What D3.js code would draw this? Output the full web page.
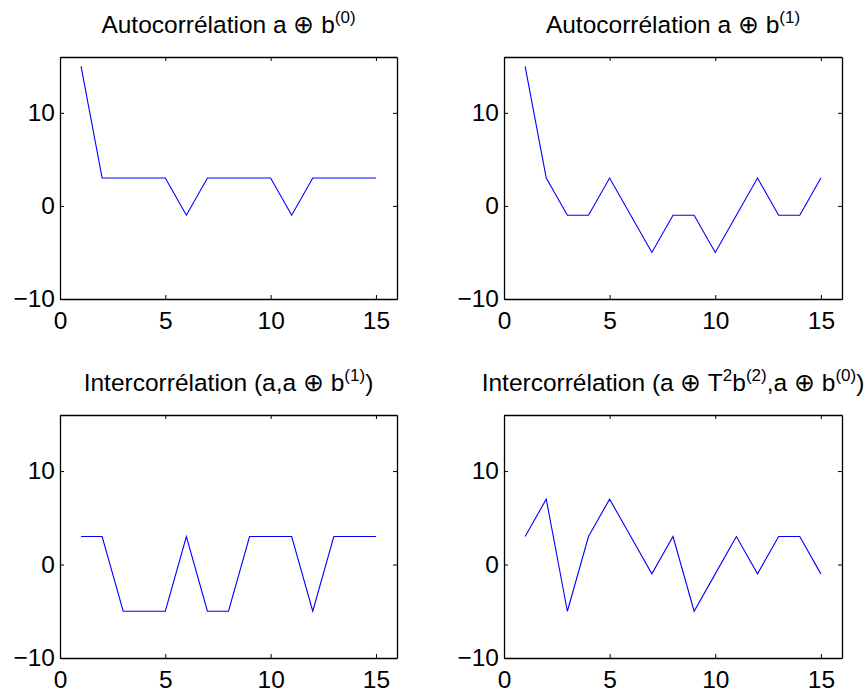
<!DOCTYPE html>
<html><head><meta charset="utf-8">
<script src="https://cdn.jsdelivr.net/npm/d3@7"></script>
<style>
html,body{margin:0;padding:0;background:#fff;}
svg{display:block;font-family:"Liberation Sans",Arial,Helvetica,sans-serif;}
</style></head>
<body>
<script>
const lags = [1,2,3,4,5,6,7,8,9,10,11,12,13,14,15];
const autoB0 = [15,3,3,3,3,-1,3,3,3,3,-1,3,3,3,3];
const autoB1 = [15,3,-1,-1,3,-1,-5,-1,-1,-5,-1,3,-1,-1,3];
const interAB1 = [3,3,-5,-5,-5,3,-5,-5,3,3,3,-5,3,3,3];
const interT2B2B0 = [3,7,-5,3,7,3,-1,3,-5,-1,3,-1,3,3,-1];
const xTicks = [0,5,10,15];
const yTicks = [-10,0,10];
const xDomain = [0,16];
const yDomain = [-10,16];

// titles: arrays of [text, isSuperscript]
const titles = [
  [["Autocorrélation a \u2295 b",false],["(0)",true]],
  [["Autocorrélation a \u2295 b",false],["(1)",true]],
  [["Intercorrélation (a,a \u2295 b",false],["(1)",true],[")",false]],
  [["Intercorrélation (a \u2295 T",false],["2",true],["b",false],["(2)",true],[",a \u2295 b",false],["(0)",true],[")",false]]
];
const seriesList = [autoB0, autoB1, interAB1, interT2B2B0];

const W = 866, H = 693;
const svg = d3.select("body").append("svg").attr("width",W).attr("height",H);

const panels = [
  {x0:60, x1:397, y0:57, y1:299},
  {x0:504, x1:842, y0:57, y1:299},
  {x0:60, x1:397, y0:415, y1:658},
  {x0:504, x1:842, y0:415, y1:658}
];
const FS = 24.5;
const SUP = 17;

panels.forEach((p,i)=>{
  const x = d3.scaleLinear().domain(xDomain).range([p.x0,p.x1]);
  const y = d3.scaleLinear().domain(yDomain).range([p.y1,p.y0]);
  const g = svg.append("g");

  // data line
  const line = d3.line().x((d,j)=>x(lags[j])).y(d=>y(d));
  g.append("path").datum(seriesList[i]).attr("d",line)
    .attr("fill","none").attr("stroke","#0000ff").attr("stroke-width",1.1);

  // axes with inward ticks
  const tl = 4;
  const bottom = d3.axisBottom(x).tickValues(xTicks).tickSizeInner(-tl).tickSizeOuter(0).tickPadding(13);
  const top = d3.axisTop(x).tickValues(xTicks).tickSizeInner(-tl).tickSizeOuter(0).tickFormat("");
  const left = d3.axisLeft(y).tickValues(yTicks).tickSizeInner(-tl).tickSizeOuter(0).tickPadding(5).tickFormat(d=>d<0?"\u2212"+Math.abs(d):d);
  const right = d3.axisRight(y).tickValues(yTicks).tickSizeInner(-tl).tickSizeOuter(0).tickFormat("");

  const gb = g.append("g").attr("transform",`translate(0,${p.y1})`).call(bottom);
  const gt = g.append("g").attr("transform",`translate(0,${p.y0})`).call(top);
  const gl = g.append("g").attr("transform",`translate(${p.x0},0)`).call(left);
  const gr = g.append("g").attr("transform",`translate(${p.x1},0)`).call(right);
  [gb,gt,gl,gr].forEach(a=>{
    a.selectAll("path.domain").attr("stroke","#000").attr("stroke-width",1.3);
    a.selectAll(".tick line").attr("stroke","#000").attr("stroke-width",1);
    a.selectAll("text").attr("fill","#000").style("font-size",FS+"px")
      .style("font-family","\"Liberation Sans\",Arial,Helvetica,sans-serif");
  });
  gb.selectAll("text").attr("dy","0.71em");

  // title
  const t = g.append("text").attr("x",(p.x0+p.x1)/2).attr("y",p.y0-24)
    .attr("text-anchor","middle").style("font-size",FS+"px").attr("fill","#000");
  let raised = false;
  titles[i].forEach(([txt,sup])=>{
    const ts = t.append("tspan").text(txt);
    if(sup && !raised){ ts.attr("dy",-10).style("font-size",SUP+"px"); raised=true; }
    else if(sup && raised){ ts.style("font-size",SUP+"px"); }
    else if(!sup && raised){ ts.attr("dy",10); raised=false; }
  });
});
</script>
</body></html>
